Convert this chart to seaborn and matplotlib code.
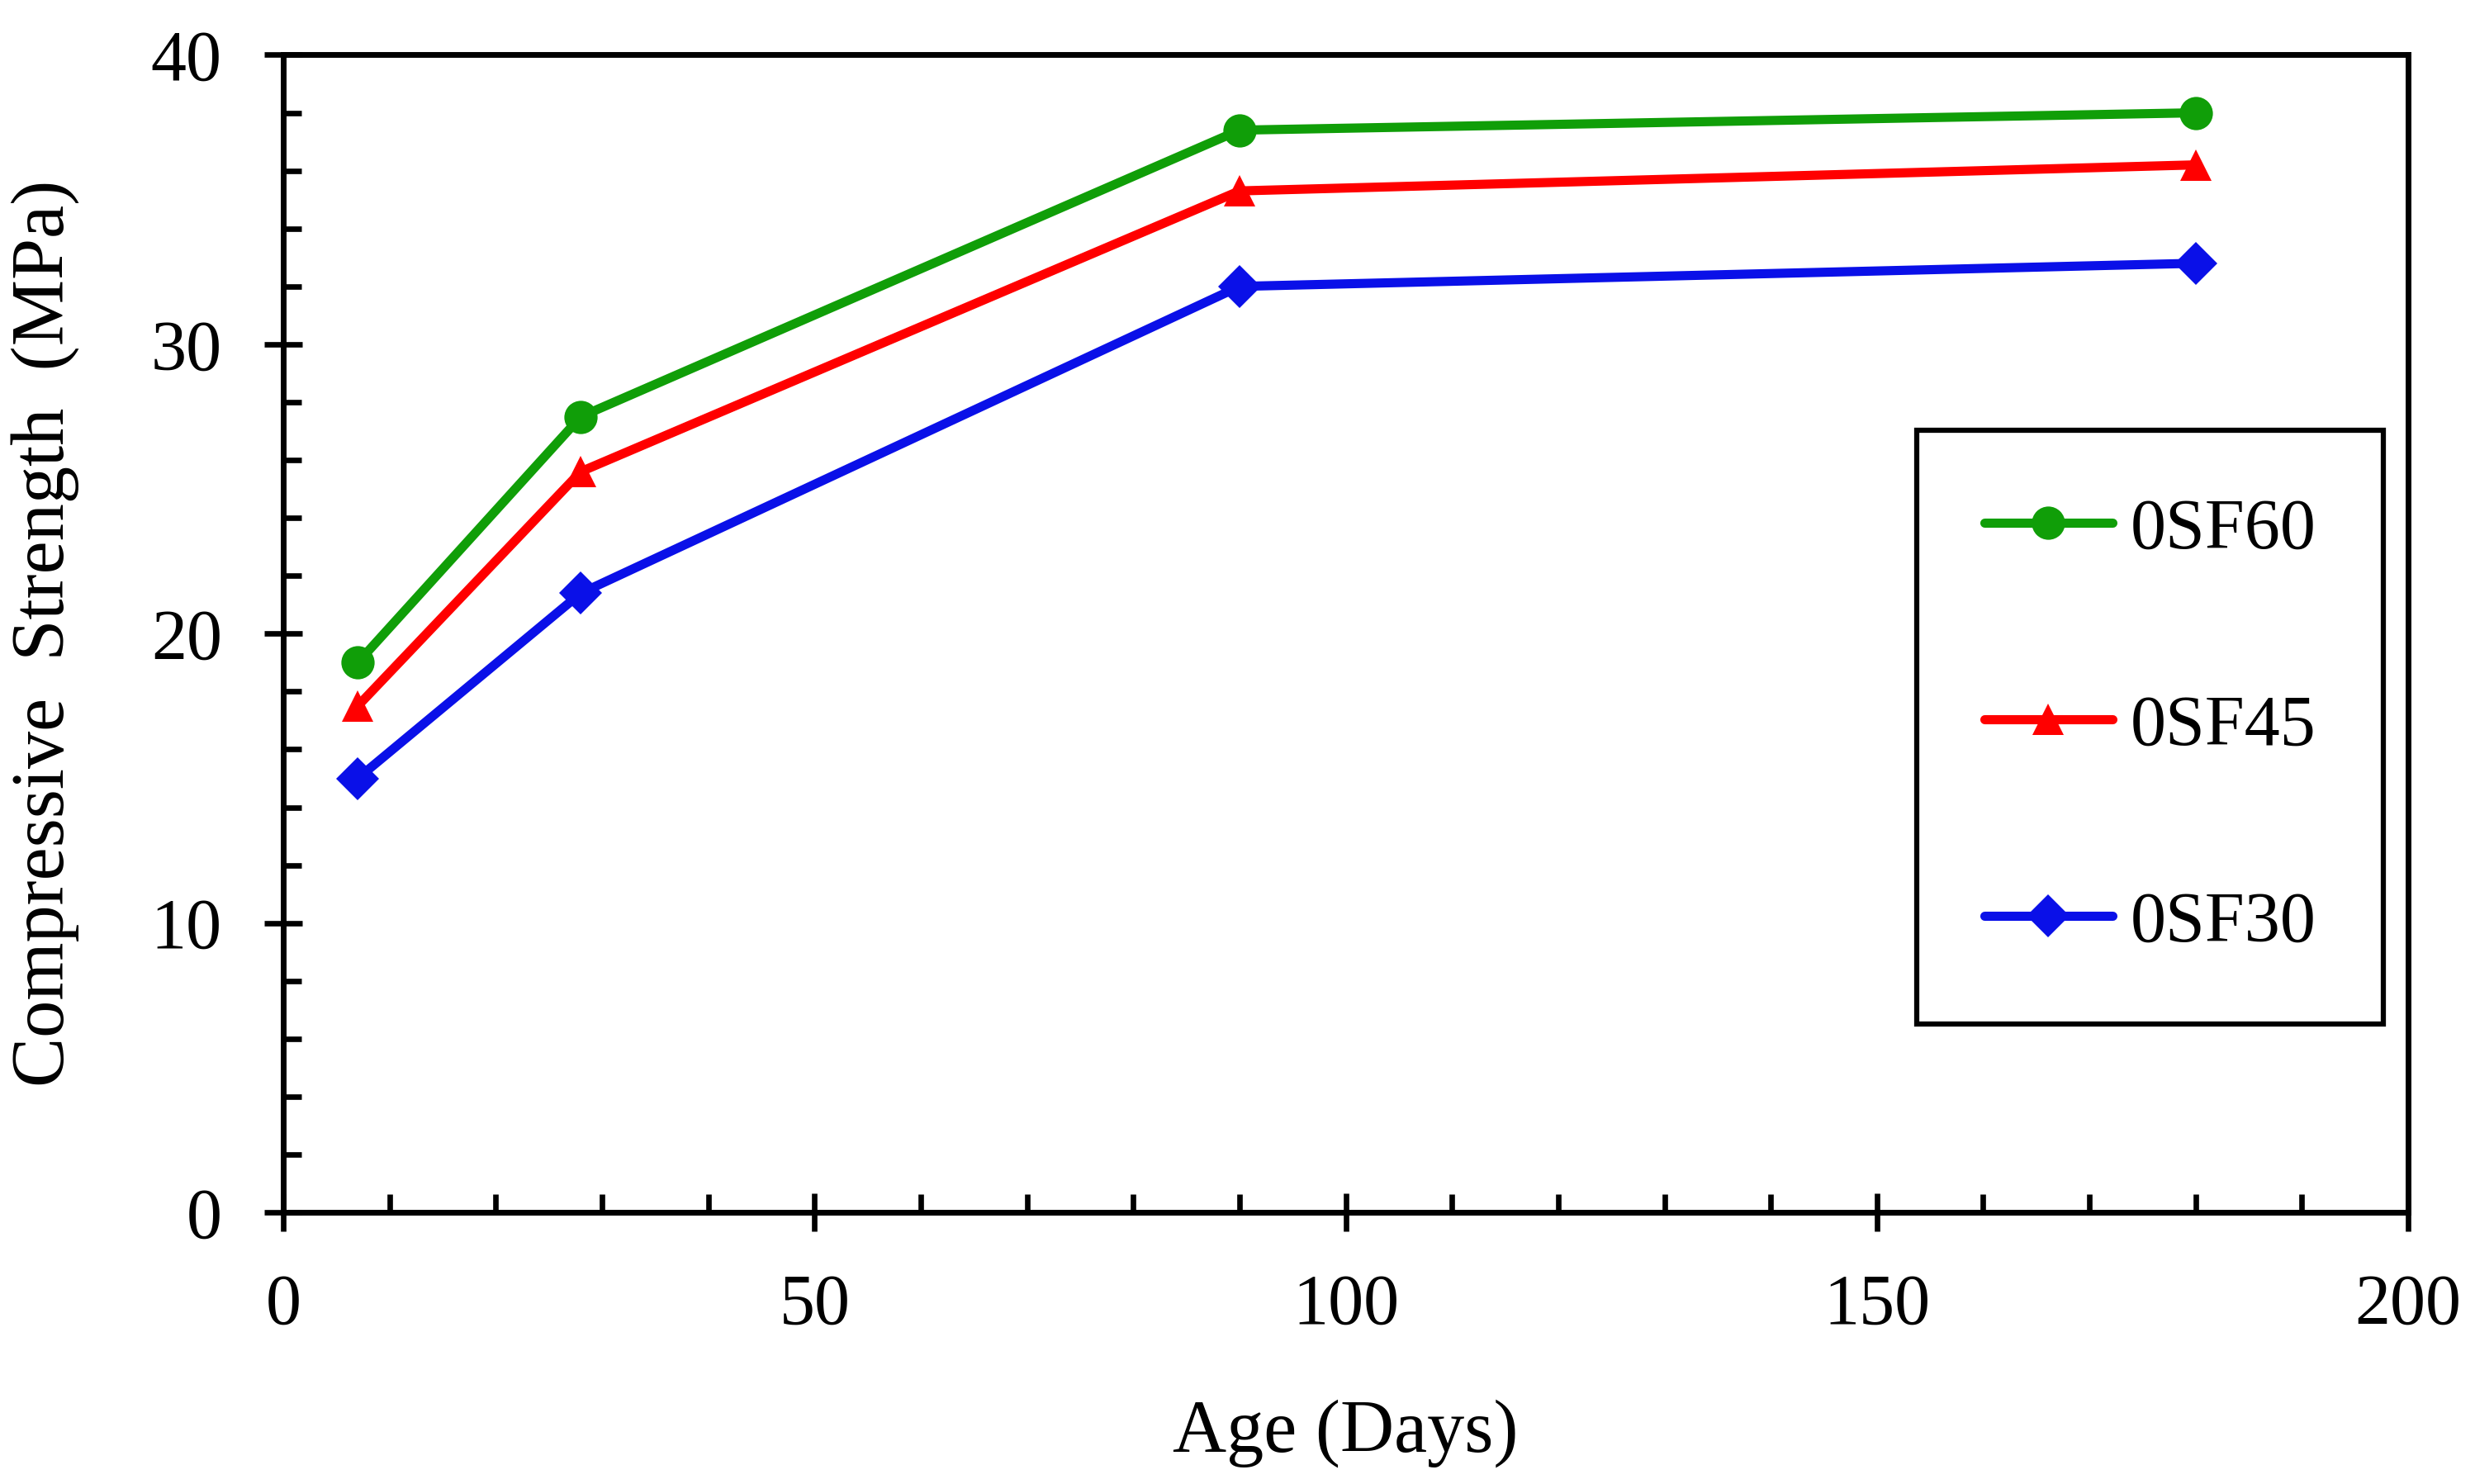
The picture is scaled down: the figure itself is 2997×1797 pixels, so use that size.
import matplotlib
matplotlib.use("Agg")
import matplotlib.pyplot as plt
import seaborn as sns
import pandas as pd
from matplotlib.ticker import MultipleLocator

# ---- data ----
age_days = [7, 28, 90, 180]
sf60 = [19.0, 27.5, 37.4, 38.0]
sf45 = [17.5, 25.6, 35.3, 36.2]
sf30 = [15.0, 21.4, 32.0, 32.8]
series_names = ["0SF60", "0SF45", "0SF30"]
x_ticks = [0, 50, 100, 150, 200]
y_ticks = [0, 10, 20, 30, 40]

sns.set_style("ticks")
plt.rcParams["font.family"] = ["Liberation Serif", "DejaVu Serif"]
for k in ["text.color", "axes.labelcolor", "xtick.color", "ytick.color", "axes.edgecolor"]:
    plt.rcParams[k] = "black"

fig = plt.figure(figsize=(29.97, 17.97), dpi=100)
ax = fig.add_axes([0.1145, 0.183, 0.8585, 0.780])

styles = [
    (sf60, "#109E08", "o", 29),
    (sf45, "#FF0000", "^", 27),
    (sf30, "#0A10E8", "D", 26),
]
for name, (vals, col, mk, ms) in zip(series_names, styles):
    df = pd.DataFrame({"Age": age_days, "Strength": vals})
    sns.lineplot(data=df, x="Age", y="Strength", ax=ax, color=col, marker=mk,
                 markersize=ms, markeredgewidth=0, linewidth=8, label=name,
                 solid_capstyle="round")

ax.set_xlim(0, 200)
ax.set_ylim(0, 40)
ax.set_xticks(x_ticks)
ax.set_yticks(y_ticks)
ax.xaxis.set_minor_locator(MultipleLocator(10))
ax.yaxis.set_minor_locator(MultipleLocator(2))
ax.tick_params(which="major", direction="inout", length=33, width=4.8,
               labelsize=62, pad=37, color="black", labelcolor="black",
               bottom=True, left=True)
ax.tick_params(which="minor", direction="in", length=16, width=4.8,
               color="black", bottom=True, left=True)
for s in ax.spines.values():
    s.set_color("black")
    s.set_linewidth(5)
    s.set_visible(True)

ax.set_xlabel("Age (Days)", fontsize=65)
ax.set_ylabel("Compressive  Strength  (MPa)", fontsize=65)
ax.xaxis.label.set_va("center")
ax.yaxis.label.set_va("center")
ax.xaxis.set_label_coords(0.5, -0.191)
ax.yaxis.set_label_coords(-0.112, 0.5)

leg = ax.legend(loc="upper left", bbox_to_anchor=(0.7745, 0.710),
                bbox_transform=fig.transFigure, fontsize=62, frameon=True,
                fancybox=False, edgecolor="black", framealpha=1,
                handlelength=1.8, handletextpad=0.25, labelspacing=1.84,
                borderpad=0.95, borderaxespad=0)
leg.get_frame().set_linewidth(4.5)
for t in leg.get_texts():
    t.set_color("black")

fig.savefig("out.png", dpi=100)
